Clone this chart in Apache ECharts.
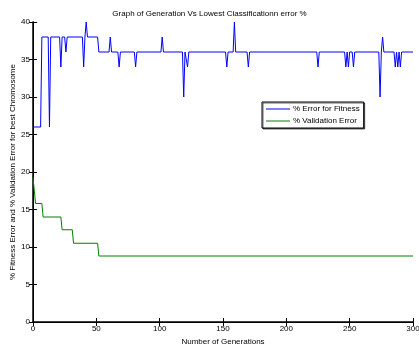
<!DOCTYPE html>
<html>
<head>
<meta charset="utf-8">
<script src="https://cdn.jsdelivr.net/npm/echarts@6/dist/echarts.min.js"></script>
<style>
  html, body { margin: 0; padding: 0; background: #fff; }
  #main { width: 419px; height: 345px; }
</style>
</head>
<body>
<div id="main"></div>
<script>
// [generation, % error] break points
var fitnessError = [
  [0,26],[6,26],[7,38],[12,38],[13,26],[14,38],[21,38],[22,34],[23,38],[25,38],[26,36],[27,38],
  [39,38],[40,34],[41,38],[42,40],[43,38],[51,38],[52,36],[60,36],[61,38],[62,36],[67,36],[68,34],
  [69,36],[80,36],[81,34],[82,36],[101,36],[102,38],[103,36],[118,36],[119,30],[120,36],[121,36],
  [122,34],[123,36],[152,36],[153,34],[154,36],[158,36],[159,40],[160,36],[169,36],[170,34],[171,36],
  [224,36],[225,34],[226,36],[246,36],[247,34],[248,36],[249,34],[250,36],[252,36],[253,34],[254,36],
  [273,36],[274,30],[275,36],[276,38],[277,36],[285,36],[286,34],[287,36],[288,34],[289,36],[290,34],
  [291,36],[300,36]
];
var validationError = [
  [0,19.3],[1,19.3],[2,15.8],[7,15.8],[8,14.0],[22,14.0],[23,12.3],[31,12.3],[32,10.5],
  [51,10.5],[52,8.8],[300,8.8]
];
var legendNames = ['% Error for Fitness', '% Validation Error'];

var chart = echarts.init(document.getElementById('main'));
var font = 'Liberation Sans, Arial, sans-serif';

var option = {
  backgroundColor: '#fff',
  animation: false,
  title: {
    text: 'Graph of Generation Vs Lowest Classificationn error %',
    left: 'center',
    top: 5,
    textStyle: { fontSize: 8, fontWeight: 'normal', color: '#000', fontFamily: font }
  },
  grid: { left: 33, right: 6, top: 22, bottom: 23, outerBoundsMode: 'none', containLabel: false },
  legend: {
    data: legendNames,
    icon: 'rect',
    orient: 'vertical',
    left: 262,
    top: 102,
    borderColor: '#000',
    borderWidth: 1,
    backgroundColor: '#fff',
    padding: [3, 4, 3, 4],
    itemGap: 4,
    itemWidth: 24,
    itemHeight: 1,
    shadowColor: 'rgba(0,0,0,0.6)',
    shadowOffsetX: 1,
    shadowOffsetY: 1,
    textStyle: { fontSize: 8, color: '#000', fontFamily: font, padding: [0, 0, 0, -2] }
  },
  xAxis: [{
    type: 'value', min: 0, max: 300, interval: 50,
    name: 'Number of Generations', nameLocation: 'middle', nameGap: 13,
    nameTextStyle: { fontSize: 8, color: '#000', fontFamily: font },
    axisLine: { lineStyle: { color: '#000', width: 1.5 } },
    axisTick: { inside: true, length: 4, lineStyle: { color: '#000' } },
    axisLabel: { fontSize: 8, color: '#000', margin: 3, fontFamily: font },
    splitLine: { show: false }
  }, {
    type: 'value', min: 0, max: 300, interval: 50, position: 'top',
    axisLine: { lineStyle: { color: '#000', width: 1 } },
    axisTick: { inside: true, length: 4, lineStyle: { color: '#000' } },
    axisLabel: { show: false },
    splitLine: { show: false }
  }],
  yAxis: [{
    type: 'value', min: 0, max: 40, interval: 5,
    name: '% Fitness Error and % Validation Error for best Chromosome',
    nameLocation: 'middle', nameGap: 16, nameMoveOverlap: false,
    nameTextStyle: { fontSize: 8, color: '#000', fontFamily: font },
    axisLine: { show: true, lineStyle: { color: '#000', width: 1.5 } },
    axisTick: { show: true, inside: true, length: 4, lineStyle: { color: '#000' } },
    axisLabel: { fontSize: 8, color: '#000', margin: 3, fontFamily: font },
    splitLine: { show: false }
  }, {
    type: 'value', min: 0, max: 40, interval: 5, position: 'right',
    axisLine: { show: true, lineStyle: { color: '#000', width: 1 } },
    axisTick: { show: true, inside: true, length: 4, lineStyle: { color: '#000' } },
    axisLabel: { show: false },
    splitLine: { show: false }
  }],
  series: [{
    name: legendNames[0],
    type: 'line',
    data: fitnessError,
    symbol: 'none',
    lineStyle: { color: '#0000ff', width: 1 },
    itemStyle: { color: '#0000ff' }
  }, {
    name: legendNames[1],
    type: 'line',
    data: validationError,
    symbol: 'none',
    lineStyle: { color: '#008000', width: 1 },
    itemStyle: { color: '#008000' }
  }]
};
chart.setOption(option);
</script>
</body>
</html>
